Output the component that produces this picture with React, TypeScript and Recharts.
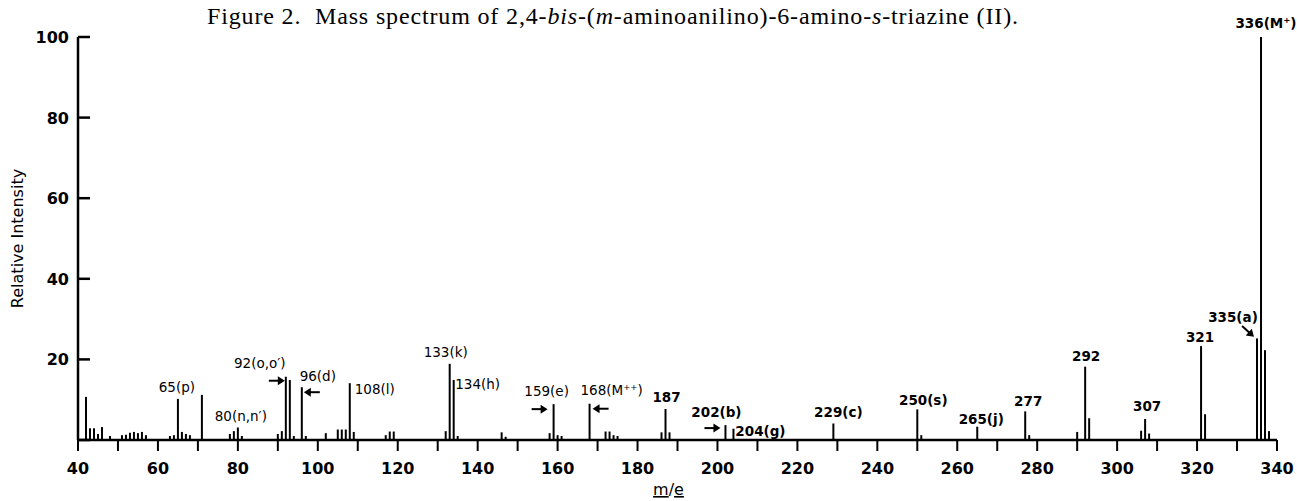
import React from "react";
import { ComposedChart, Bar, XAxis, YAxis, ReferenceDot } from "recharts";

// m/e values of the recorded peaks and their relative intensities (%)
const massNumbers = [
  42, 43, 44, 45, 46, 48, 51, 52, 53, 54, 55, 56, 57, 63, 64, 65, 66, 67, 68, 71,
  78, 79, 80, 81, 90, 91, 92, 93, 94, 96, 97, 102, 105, 106, 107, 108, 109,
  117, 118, 119, 132, 133, 134, 135, 146, 147, 158, 159, 160, 161, 168,
  172, 173, 174, 175, 186, 187, 188, 202, 204, 229, 250, 251, 265, 277, 278,
  290, 292, 293, 306, 307, 308, 321, 322, 335, 336, 337, 338,
];
const intensities = [
  10.7, 2.9, 2.9, 1.5, 3.2, 1.0, 1.2, 1.3, 1.8, 2.0, 1.7, 2.0, 1.2, 1.0, 1.2, 10.2, 2.0, 1.5, 1.2, 11.2,
  1.5, 2.2, 3.1, 1.0, 1.5, 2.2, 15.7, 14.9, 1.0, 13.1, 1.0, 1.7, 2.6, 2.6, 2.6, 14.1, 2.0,
  1.2, 2.1, 2.1, 2.2, 18.9, 14.9, 1.0, 1.9, 0.8, 1.7, 8.9, 1.2, 1.0, 9.0,
  2.1, 2.1, 1.2, 1.0, 1.9, 7.7, 1.9, 3.7, 2.8, 4.1, 7.6, 1.2, 3.3, 7.1, 1.2,
  2.0, 18.2, 5.4, 2.3, 5.2, 1.6, 23.3, 6.4, 25.2, 100, 22.3, 2.2,
];

const xTicks = [40, 50, 60, 70, 80, 90, 100, 110, 120, 130, 140, 150, 160, 170, 180, 190, 200, 210, 220, 230, 240, 250, 260, 270, 280, 290, 300, 310, 320, 330, 340];
const yTicks = [0, 20, 40, 60, 80, 100];

// peak annotations
const labelPeaks = [65, 80, 92, 96, 108, 133, 134, 159, 168, 187, 202, 204, 229, 250, 265, 277, 292, 307, 321, 335, 336];
const labelTexts = [
  "65(p)", "80(n,n′)", "92(o,o′)", "96(d)", "108(l)", "133(k)", "134(h)", "159(e)", "168(M⁺⁺)", "187",
  "202(b)", "204(g)", "229(c)", "250(s)", "265(j)", "277", "292", "307", "321", "335(a)", "336(M⁺)",
];
// label centre offset from the peak top, in px
const labelOffsets = [
  [-1, -12], [3, -12], [-26, -14], [16, -11], [25, 6], [-4, -12], [24, 4], [-7, -13], [22, -14], [1, -12],
  [-9, -13], [27, 2], [5, -11], [6, -9], [4, -8], [3, -10], [1, -11], [2, -13], [-1, -9], [-24, -21], [5, -14],
];

const arrowPeaks = [92, 96, 159, 168, 202, 335];
const arrowAngles = [0, 180, 0, 180, 0, 42];
const arrowOffsets = [[-9, 4], [10, 5], [-14, 5], [11, 5], [-13, 3], [-9, -7]];

const chartData = massNumbers.map((m, i) => ({ m, intensity: intensities[i] }));
const peakValue = (m: number) => intensities[massNumbers.indexOf(m)];

const FONT = "'DejaVu Sans', sans-serif";

function XTick(props: any) {
  const { x, y, payload } = props;
  if (payload.value % 20 !== 0) return <g />;
  return (
    <text x={x} y={y + 21} textAnchor="middle" fontFamily={FONT} fontSize={16} fontWeight="bold" fill="#000">
      {payload.value}
    </text>
  );
}

function YTick(props: any) {
  const { x, y, payload } = props;
  return (
    <g>
      <line x1={x} y1={y} x2={x + 12} y2={y} stroke="#000" strokeWidth={2.5} />
      {payload.value > 0 && (
        <text x={x - 9} y={y + 6} textAnchor="end" fontFamily={FONT} fontSize={16} fontWeight="bold" fill="#000">
          {payload.value}
        </text>
      )}
    </g>
  );
}

function renderXLabel(props: any) {
  const vb = props.viewBox;
  const cx = vb.x + vb.width / 2 - 9;
  return (
    <text x={cx} y={vb.y + 55} textAnchor="middle" fontFamily={FONT} fontSize={16} fill="#000">
      <tspan textDecoration="underline" style={{ textDecoration: "underline" }}>m</tspan>
      /
      <tspan textDecoration="underline" style={{ textDecoration: "underline" }}>e</tspan>
    </text>
  );
}

function renderYLabel(props: any) {
  const vb = props.viewBox;
  const x = vb.x - 15;
  const y = vb.y + vb.height / 2;
  return (
    <text x={x} y={y} transform={`rotate(-90, ${x}, ${y})`} textAnchor="middle" fontFamily={FONT} fontSize={16} fill="#000">
      Relative Intensity
    </text>
  );
}

function Arrow({ cx, cy, angle }: { cx: number; cy: number; angle: number }) {
  return (
    <g transform={`translate(${cx}, ${cy}) rotate(${angle})`}>
      <line x1={-8} y1={0} x2={2} y2={0} stroke="#000" strokeWidth={2} />
      <path d="M 1 -4.5 L 8 0 L 1 4.5 Z" fill="#000" />
    </g>
  );
}

export default function App() {
  return (
    <div style={{ position: "absolute", left: 0, top: 0, width: 1297, height: 501, background: "#fff" }}>
      <svg width={1297} height={40} style={{ position: "absolute", left: 0, top: 0 }}>
        <text
          x={207}
          y={24}
          textLength={811}
          lengthAdjust="spacing"
          fontFamily="'Liberation Serif', serif"
          fontSize={24}
          fill="#000"
        >
          Figure 2.{"\u00a0 "}Mass spectrum of 2,4-<tspan fontStyle="italic">bis</tspan>-(<tspan fontStyle="italic">m</tspan>-aminoanilino)-6-amino-<tspan fontStyle="italic">s</tspan>-triazine (II).
        </text>
      </svg>
      <ComposedChart
        width={1297}
        height={501}
        data={chartData}
        margin={{ top: 37, right: 20, bottom: 31, left: 38 }}
        style={{ position: "absolute", left: 0, top: 0 }}
      >
        <XAxis
          type="number"
          dataKey="m"
          domain={[40, 340]}
          ticks={xTicks}
          interval={0}
          allowDataOverflow
          height={30}
          tickSize={11}
          tickMargin={2}
          axisLine={{ stroke: "#000", strokeWidth: 2.5 }}
          tickLine={{ stroke: "#000", strokeWidth: 2 }}
          tick={<XTick />}
          label={renderXLabel}
        />
        <YAxis
          type="number"
          domain={[0, 100]}
          ticks={yTicks}
          interval={0}
          width={40}
          tickSize={0}
          tickMargin={0}
          tickLine={false}
          axisLine={{ stroke: "#000", strokeWidth: 2.5 }}
          tick={<YTick />}
          label={renderYLabel}
        />
        <Bar dataKey="intensity" fill="#000" barSize={2} isAnimationActive={false} />
        {labelPeaks.map((m, i) => (
          <ReferenceDot
            key={"l" + m}
            x={m}
            y={peakValue(m)}
            r={0}
            ifOverflow="visible"
            shape={(p: any) => (
              <text
                x={p.cx + labelOffsets[i][0]}
                y={p.cy + labelOffsets[i][1] + 5}
                textAnchor="middle"
                fontFamily={FONT}
                fontSize={13.5}
                fontWeight={m >= 187 ? "bold" : "normal"}
                fill="#000"
              >
                {labelTexts[i]}
              </text>
            )}
          />
        ))}
        {arrowPeaks.map((m, i) => (
          <ReferenceDot
            key={"a" + m}
            x={m}
            y={peakValue(m)}
            r={0}
            ifOverflow="visible"
            shape={(p: any) => (
              <Arrow cx={p.cx + arrowOffsets[i][0]} cy={p.cy + arrowOffsets[i][1]} angle={arrowAngles[i]} />
            )}
          />
        ))}
      </ComposedChart>
    </div>
  );
}
